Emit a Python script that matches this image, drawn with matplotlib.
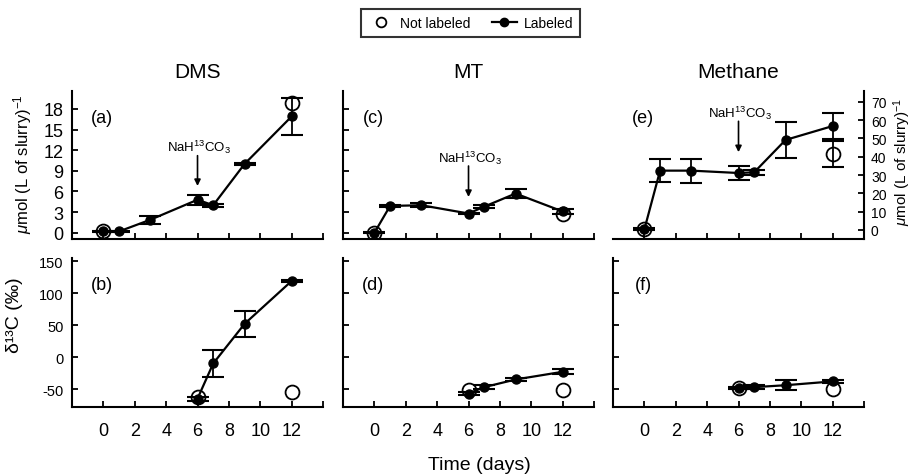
import matplotlib
matplotlib.use('Agg')
import matplotlib.pyplot as plt
from matplotlib.lines import Line2D

plt.rcParams['font.family'] = ['Liberation Sans', 'DejaVu Sans']
plt.rcParams['mathtext.fontset'] = 'custom'
plt.rcParams['mathtext.rm'] = 'Liberation Sans'
plt.rcParams['mathtext.it'] = 'Liberation Sans:italic'
plt.rcParams['axes.unicode_minus'] = False

# ---- data ----
# amounts, umol (L of slurry)^-1
dms_x = [0, 1, 3, 6, 7, 9, 12]
dms_y = [0.2, 0.2, 1.9, 4.8, 4.0, 10.0, 16.9]
dms_err = [0.1, 0.1, 0.6, 0.7, 0.2, 0.2, 2.7]
dms_nl_x = [0, 12]
dms_nl_y = [0.2, 18.9]

mt_x = [0, 1, 3, 6, 7, 9, 12]
mt_y = [0.0, 3.9, 4.0, 2.8, 3.8, 5.7, 3.1]
mt_err = [0.1, 0.1, 0.3, 0.1, 0.2, 0.7, 0.4]
mt_nl_x = [0, 12]
mt_nl_y = [0.0, 2.7]

ch4_x = [0, 1, 3, 6, 7, 9, 12]
ch4_y = [0.3, 32.4, 32.4, 31.1, 31.5, 49.2, 56.8]
ch4_err = [0.5, 6.2, 6.5, 4.0, 1.5, 10.0, 7.0]
ch4_nl_x = [0, 12]
ch4_nl_y = [0.3, 41.6]
ch4_nl_err = [0.0, 7.0]

# delta 13C, permil
d_dms_x = [6, 7, 9, 12]
d_dms_y = [-65, -10, 52, 119]
d_dms_err = [3, 21, 20, 2]
d_dms_nl_x = [6, 12]
d_dms_nl_y = [-62, -55]

d_mt_x = [6, 7, 9, 12]
d_mt_y = [-57, -47, -35, -23]
d_mt_err = [3, 3, 2, 4]
d_mt_nl_x = [6, 12]
d_mt_nl_y = [-52, -52]

d_ch4_x = [6, 7, 9, 12]
d_ch4_y = [-48, -47, -44, -38]
d_ch4_err = [2, 3, 8, 2]
d_ch4_nl_x = [6, 12]
d_ch4_nl_y = [-48, -50]

titles = ['DMS', 'MT', 'Methane']
xticks = [0, 2, 4, 6, 8, 10, 12, 14]
xticklabels = ['0', '2', '4', '6', '8', '10', '12', '']

fig = plt.figure(figsize=(9.14, 4.77), dpi=100)

lefts = [0.0788, 0.3753, 0.6707]
w = 0.2746
top_b, top_h = 0.4969, 0.3103
bot_b, bot_h = 0.1447, 0.3124

ax_top = [fig.add_axes([l, top_b, w, top_h]) for l in lefts]
ax_bot = [fig.add_axes([l, bot_b, w, bot_h]) for l in lefts]


def draw(ax, x, y, err, nx, ny, nerr=None):
    ax.errorbar(x, y, yerr=err, color='black', lw=1.6, marker='o', ms=6.5,
                mfc='black', mec='black', capsize=8, capthick=1.5,
                elinewidth=1.3, zorder=3)
    if nerr is not None:
        ax.errorbar(nx, ny, yerr=nerr, fmt='none', ecolor='black',
                    capsize=8, capthick=1.5, elinewidth=1.3, zorder=3)
    ax.plot(nx, ny, linestyle='none', marker='o', ms=10, mfc='none',
            mec='black', mew=1.3, zorder=4)


def style(ax):
    ax.spines['top'].set_visible(False)
    ax.spines['right'].set_visible(False)
    for s in ax.spines.values():
        s.set_linewidth(1.5)
    ax.set_xlim(-2, 14)
    ax.set_xticks(xticks)
    ax.tick_params(direction='in', length=4, width=1.3, pad=11,
                   labelsize=13)


draw(ax_top[0], dms_x, dms_y, dms_err, dms_nl_x, dms_nl_y)
draw(ax_top[1], mt_x, mt_y, mt_err, mt_nl_x, mt_nl_y)
draw(ax_top[2], ch4_x, ch4_y, ch4_err, ch4_nl_x, ch4_nl_y, ch4_nl_err)
draw(ax_bot[0], d_dms_x, d_dms_y, d_dms_err, d_dms_nl_x, d_dms_nl_y)
draw(ax_bot[1], d_mt_x, d_mt_y, d_mt_err, d_mt_nl_x, d_mt_nl_y)
draw(ax_bot[2], d_ch4_x, d_ch4_y, d_ch4_err, d_ch4_nl_x, d_ch4_nl_y)

for ax in ax_top + ax_bot:
    style(ax)

# top row
for i, ax in enumerate(ax_top):
    ax.set_xticklabels([])
    ax.set_title(titles[i], fontsize=15, pad=10)
for ax in ax_top[:2]:
    ax.set_ylim(-0.9, 20.6)
    ax.set_yticks([0, 3, 6, 9, 12, 15, 18])
ax_top[0].tick_params(axis='y', labelsize=13, pad=6)
ax_top[1].set_yticklabels([])
ax_top[0].set_ylabel(r'$\mu$mol (L of slurry)$^{-1}$', fontsize=12)
ax_top[0].yaxis.set_label_coords(-0.15, 0.51)

ax_e = ax_top[2]
ax_e.spines['left'].set_visible(False)
ax_e.spines['right'].set_visible(True)
ax_e.spines['right'].set_linewidth(1.5)
ax_e.yaxis.tick_right()
ax_e.yaxis.set_label_position('right')
ax_e.set_ylim(-5, 76)
ax_e.set_yticks(range(0, 71, 10))
ax_e.tick_params(axis='y', labelsize=10, pad=5)
ax_e.set_ylabel(r'$\mu$mol (L of slurry)$^{-1}$', fontsize=11)
ax_e.yaxis.set_label_coords(1.11, 0.53)

# bottom row
for ax in ax_bot:
    ax.set_ylim(-78, 155)
    ax.set_yticks([-50, 0, 50, 100, 150])
    ax.set_xticklabels(xticklabels)
ax_bot[0].tick_params(axis='y', labelsize=10.5, pad=6)
ax_bot[1].set_yticklabels([])
ax_bot[2].set_yticklabels([])
ax_bot[0].set_ylabel('δ¹³C (‰)', fontsize=14)
ax_bot[0].yaxis.set_label_coords(-0.195, 0.62)

# panel letters
for ax, lab in zip(ax_top + ax_bot, ['(a)', '(c)', '(e)', '(b)', '(d)', '(f)']):
    ax.text(0.12, 0.82, lab, transform=ax.transAxes, fontsize=13,
            ha='center', va='center')

# NaH13CO3 arrows
arrows = [(ax_top[0], 6, 6.8, 11.2, 12.5),
          (ax_top[1], 6, 5.2, 9.7, 11.0),
          (ax_top[2], 6, 42.5, 59.4, 64.4)]
for ax, x, tip, start, ty in arrows:
    ax.annotate('', xy=(x, tip), xytext=(x, start),
                arrowprops=dict(arrowstyle='-|>', color='black', lw=1.2,
                                mutation_scale=9, shrinkA=0, shrinkB=0))
    ax.text(x + 0.1, ty, r'NaH$^{13}$CO$_3$', fontsize=9.5, ha='center',
            va='center')

fig.text(0.525, 0.025, 'Time (days)', fontsize=14, ha='center',
         va='center')

handles = [Line2D([], [], linestyle='none', marker='o', ms=7, mfc='none',
                  mec='black', mew=1.3),
           Line2D([], [], color='black', lw=1.6, marker='o', ms=6,
                  mfc='black')]
leg = fig.legend(handles, ['Not labeled', 'Labeled'], loc='center',
                 bbox_to_anchor=(0.515, 0.95), ncol=2, fontsize=10,
                 frameon=True, fancybox=False, handlelength=1.8,
                 columnspacing=1.5, borderpad=0.5, handletextpad=0.5)
leg.get_frame().set_edgecolor('black')
leg.get_frame().set_linewidth(1.5)

fig.savefig('out.png', dpi=100)
